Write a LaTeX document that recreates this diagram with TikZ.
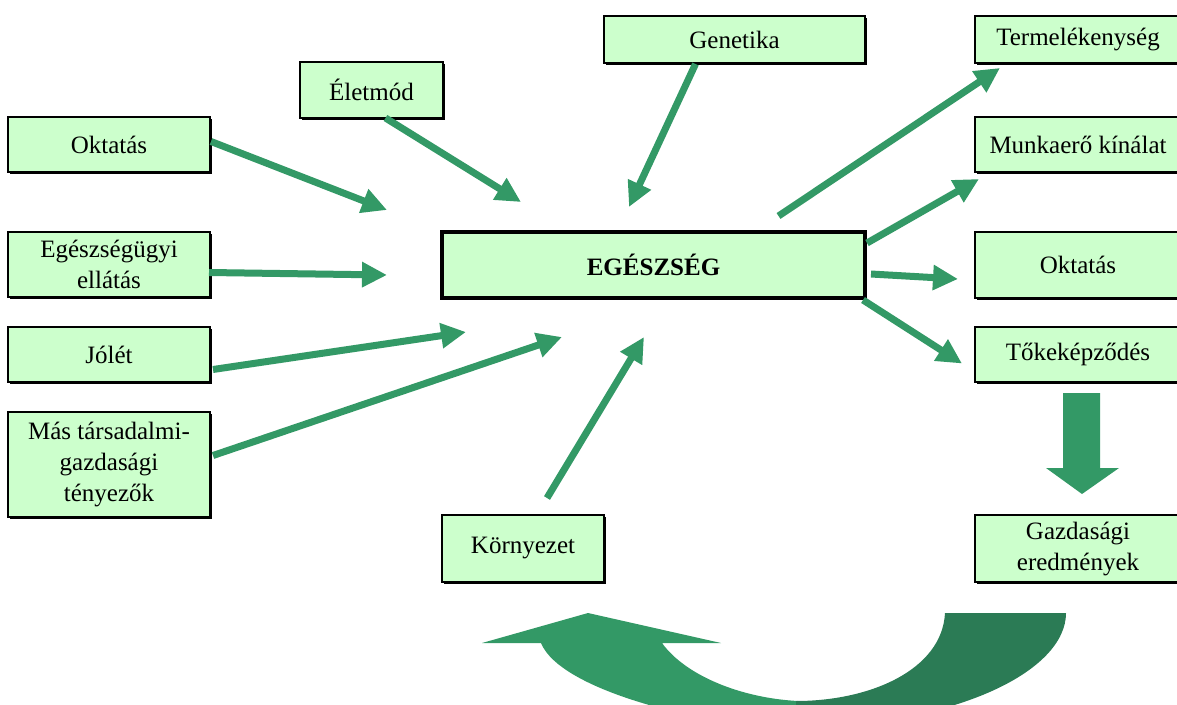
\documentclass[tikz,border=0pt]{standalone}
\usepackage{fontspec}
\setmainfont{Liberation Serif}
\usetikzlibrary{arrows.meta,shadows,calc}
\definecolor{boxgreen}{HTML}{CCFFCC}
\definecolor{argreen}{HTML}{339966}
\definecolor{darkgreen}{HTML}{2B7B55}
\begin{document}
\begin{tikzpicture}[x=1pt,y=-1pt,
  box/.style={draw=black, line width=2pt, fill=boxgreen, rectangle, inner sep=0pt,
    align=center, font=\fontsize{25}{31}\selectfont,
    drop shadow={shadow xshift=2pt, shadow yshift=-2pt, fill=black, opacity=1}},
  mainbox/.style={box, line width=4pt, font=\fontsize{25}{31}\selectfont\bfseries,
    drop shadow={shadow xshift=1.5pt, shadow yshift=-1.5pt, fill=black, opacity=1}},
  arr/.style={draw=argreen, line width=7pt, -{Triangle[length=25pt,width=24pt]}}]
\useasboundingbox (0,0) rectangle (1177,704);
\clip (0,0) rectangle (1177,704);

% left column
\node[box, minimum width=202, minimum height=55] (okt) at (109,144.5) {Oktatás};
\node[box, minimum width=202, minimum height=65] (egu) at (109,264.5) {Egészségügyi\\ellátás};
\node[box, minimum width=202, minimum height=55] (jolet) at (109,354.5) {Jólét};
\node[box, minimum width=202, minimum height=105] (mas) at (109,464.5) {Más társadalmi-\\gazdasági\\tényezők};
% middle
\node[box, minimum width=143, minimum height=56] (elet) at (371.5,90) {Életmód};
\node[box, minimum width=261, minimum height=47] (gen) at (734.5,39.5) {Genetika};
\node[mainbox, minimum width=423, minimum height=66] (egesz) at (653.5,265) {EGÉSZSÉG};
\node[box, minimum width=162, minimum height=67] (korny) at (523,548.5) {Környezet};
% right column
\node[box, minimum width=206, minimum height=47] (term) at (1078,39.5) {Termelékenység};
\node[box, minimum width=206, minimum height=55] (munk) at (1078,144.5) {Munkaerő kínálat};
\node[box, minimum width=206, minimum height=66] (oktR) at (1078,265) {Oktatás};
\node[box, minimum width=206, minimum height=55] (toke) at (1078,354.5) {Tőkeképződés};
\node[box, minimum width=206, minimum height=67] (gazd) at (1078,548.5) {Gazdasági\\eredmények};

% free arrow ends
\coordinate (t1) at (387,210);
\coordinate (t2) at (521,202);
\coordinate (t3) at (387,275);
\coordinate (t4) at (466,332);
\coordinate (t5) at (562,337);
\coordinate (t6) at (644,337);
\coordinate (t7) at (629,207);

% incoming arrows
\draw[arr] ($(okt.east)+(0,-3)$) -- (t1);
\draw[arr] ($(elet.south)+(14,-1)$) -- (t2);
\draw[arr] ($(egu.east)+(-2,8)$) -- (t3);
\draw[arr] ($(jolet.east)+(2,15)$) -- (t4);
\draw[arr] ($(mas.east)+(2,-9)$) -- (t5);
\draw[arr] ($(korny.north)+(24,-16)$) -- (t6);
\draw[arr] ($(gen.south)+(-39,0)$) -- (t7);

% outgoing arrows
\draw[arr] ($(egesz.north)+(125,-14)$) -- ($(term.south west)+(26,4)$);
\draw[arr] ($(egesz.east)+(0,-22)$) -- ($(munk.south west)+(5,6)$);
\draw[arr] ($(egesz.east)+(4,9)$) -- ($(oktR.west)+(-16,14)$);
\draw[arr] ($(egesz.south east)+(-4,0)$) -- ($(toke.west)+(-12,9)$);

% block arrow down
\fill[argreen] (1063,393) -- (1100,393) -- (1100,468) -- (1119,468) -- (1082,494)
  -- (1046,468) -- (1063,468) -- cycle;

% curved return arrow
\fill[argreen] (482,643) -- (588,613) -- (721,643) -- (662,643)
  .. controls (685,675) and (740,698) .. (798,701) -- (798,730)
  .. controls (700,725) and (560,690) .. (541,643) -- cycle;
\fill[darkgreen] (945,613) -- (1066,613) .. controls (1066,670) and (960,725) .. (796,728)
  -- (796,701) .. controls (870,701) and (942,670) .. (945,613) -- cycle;
\end{tikzpicture}
\end{document}
